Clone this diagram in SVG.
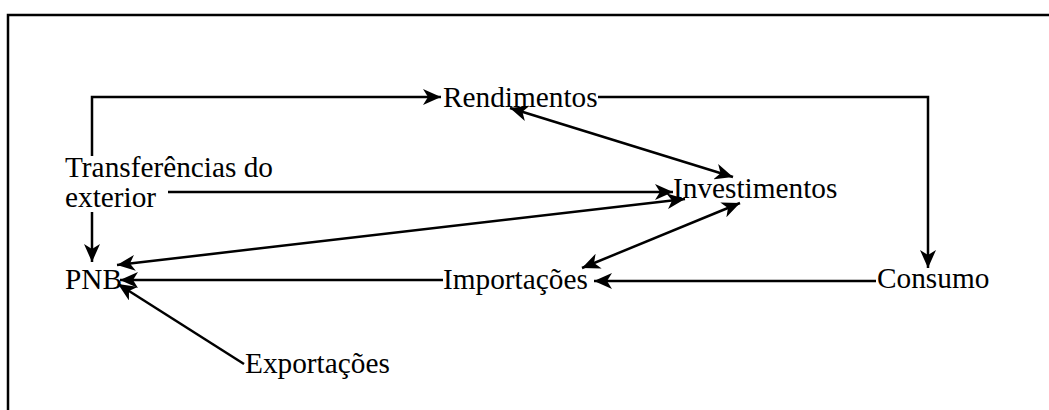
<svg xmlns="http://www.w3.org/2000/svg" width="1049" height="410" viewBox="0 0 1049 410">
<defs>
<marker id="ah" markerUnits="userSpaceOnUse" markerWidth="20" markerHeight="16" refX="18" refY="8" orient="auto-start-reverse" viewBox="0 0 20 16">
<path d="M0,0 L18,8 L0,16 L5,8 z" fill="#000"/>
</marker>
</defs>
<style>
.t{font-family:"Liberation Serif","Times New Roman",serif;font-size:29.3px;fill:#000}
.c{fill:none;stroke:#000;stroke-width:2.5}
</style>
<rect width="1049" height="410" fill="#fff"/>
<path d="M8,412 L8,15 L1052,15" fill="none" stroke="#000" stroke-width="2.5"/>
<g id="connectors">
<path class="c" d="M92,156 L92,97 L441,97" marker-end="url(#ah)"/>
<path class="c" d="M598,97 L928,97 L928,268" marker-end="url(#ah)"/>
<path class="c" d="M510,108 L733,177" marker-start="url(#ah)" marker-end="url(#ah)"/>
<path class="c" d="M168,192 L673,192" marker-end="url(#ah)"/>
<path class="c" d="M117,265 L685,199" marker-start="url(#ah)" marker-end="url(#ah)"/>
<path class="c" d="M582,268 L740,203" marker-start="url(#ah)" marker-end="url(#ah)"/>
<path class="c" d="M443,280 L120,280" marker-end="url(#ah)"/>
<path class="c" d="M876,281 L594,281" marker-end="url(#ah)"/>
<path class="c" d="M92,212 L92,262" marker-end="url(#ah)"/>
<path class="c" d="M244,364 L118,284" marker-end="url(#ah)"/>
</g>
<g id="rendimentos"><text class="t" x="443" y="107">Rendimentos</text></g>
<g id="transferencias"><text class="t" x="65" y="177">Transferências do</text><text class="t" x="65" y="207">exterior</text></g>
<g id="investimentos"><text class="t" x="673" y="198">Investimentos</text></g>
<g id="pnb"><text class="t" x="65" y="289">PNB</text></g>
<g id="importacoes"><text class="t" x="443" y="289">Importações</text></g>
<g id="consumo"><text class="t" x="877" y="288">Consumo</text></g>
<g id="exportacoes"><text class="t" x="245" y="373">Exportações</text></g>
</svg>
